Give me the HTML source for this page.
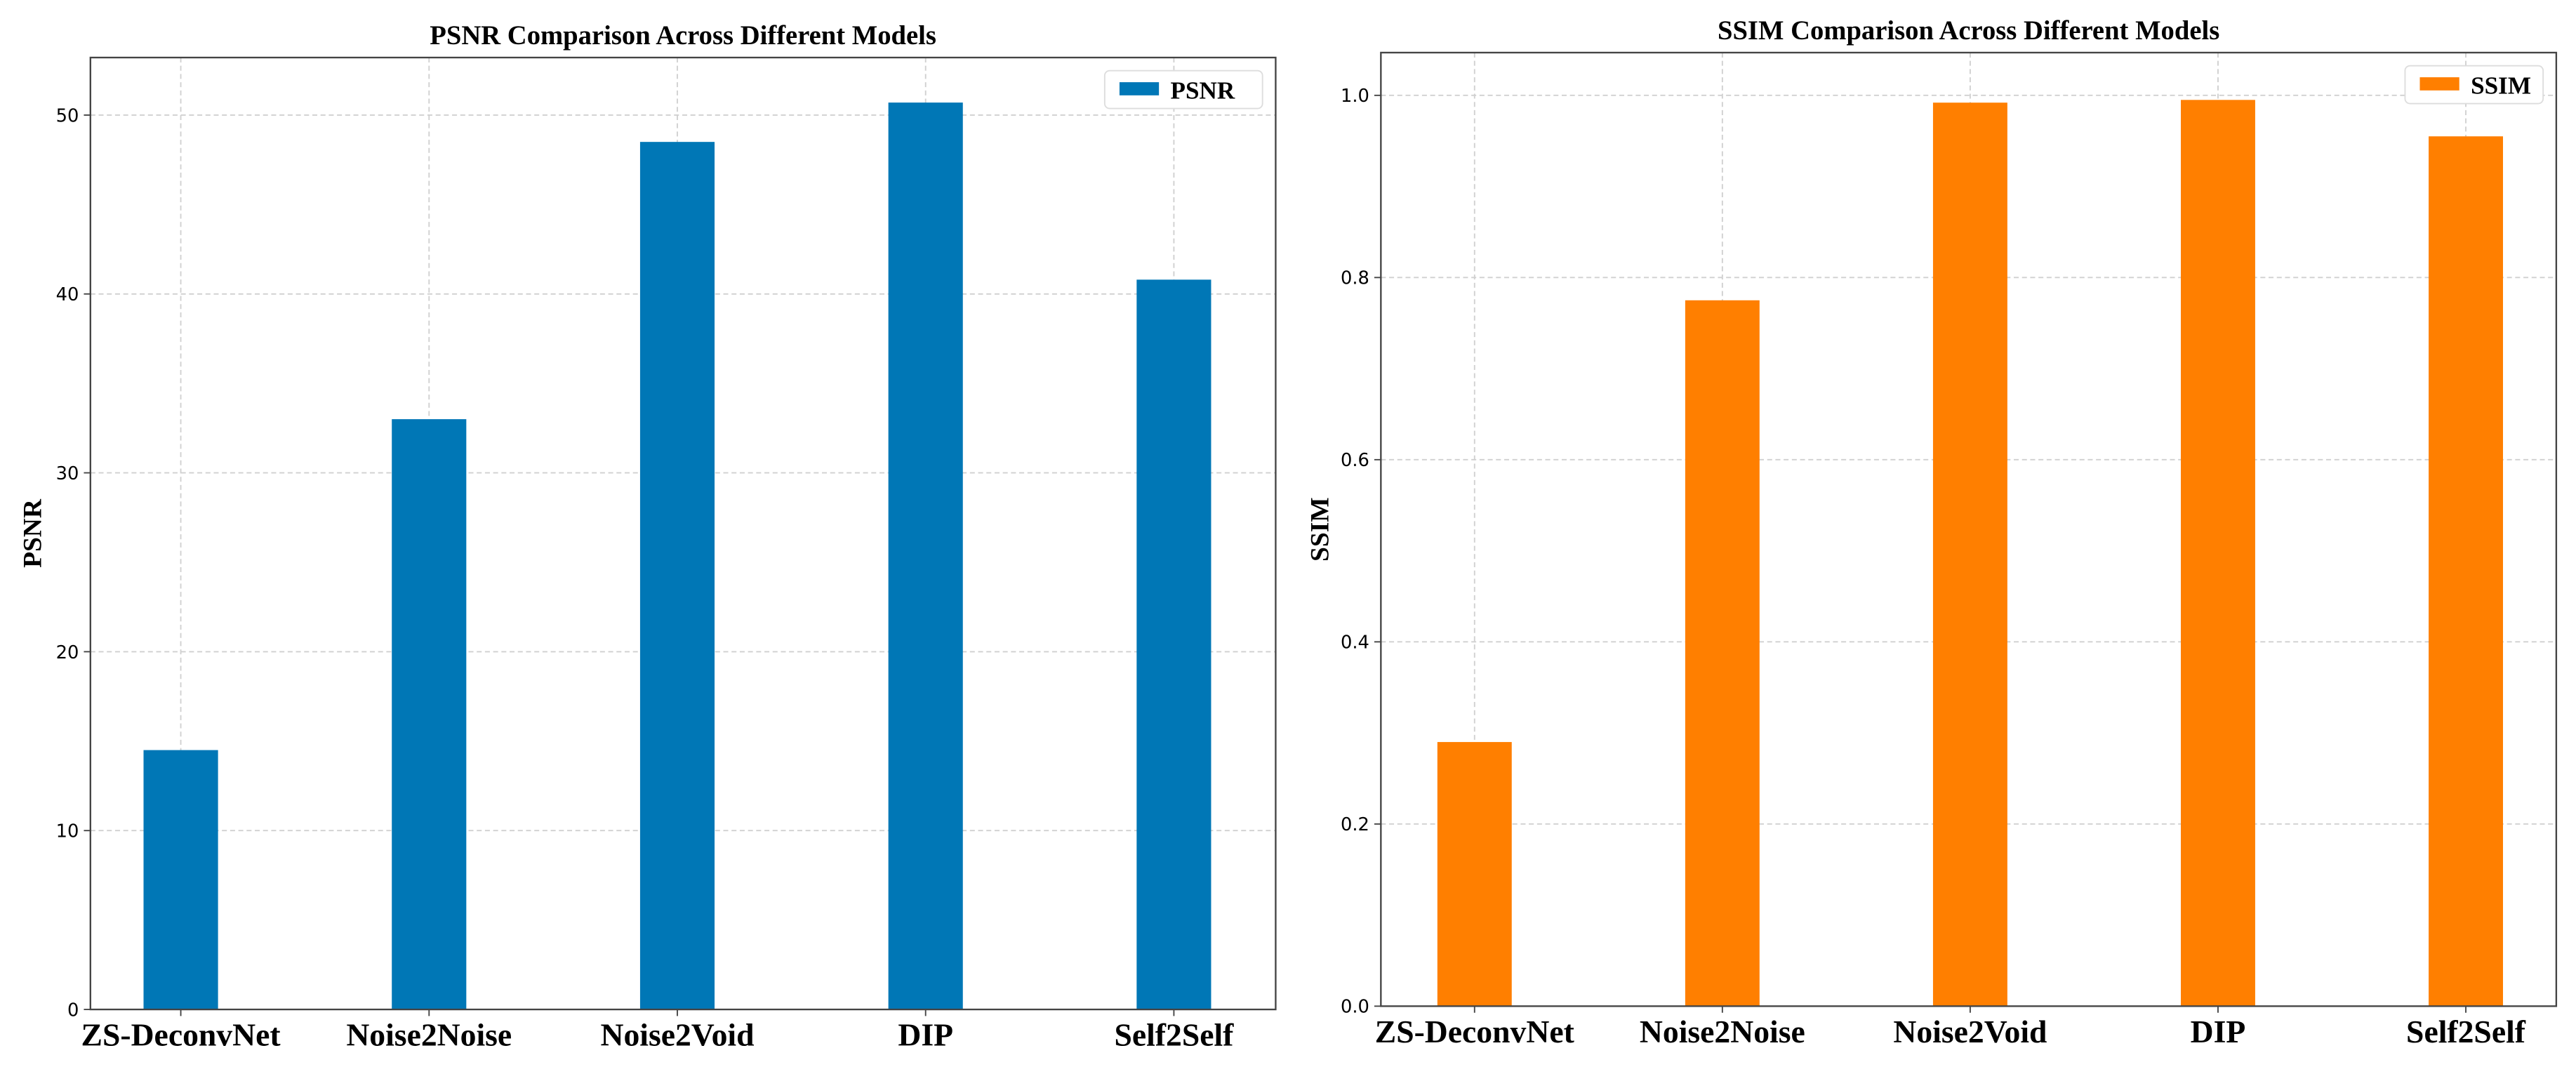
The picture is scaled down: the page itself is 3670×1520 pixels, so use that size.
<!DOCTYPE html>
<html><head><meta charset="utf-8"><style>
html,body{margin:0;padding:0;background:#fff;}
svg{display:block;}
.tick{font-family:"DejaVu Sans","Liberation Sans",sans-serif;font-size:11px;fill:#000;}
.xl{font-family:"Liberation Serif",serif;font-weight:bold;font-size:19.5px;fill:#000;}
.ttl{font-family:"Liberation Serif",serif;font-weight:bold;font-size:16.5px;fill:#000;}
.yt{font-family:"Liberation Serif",serif;font-weight:bold;font-size:16px;fill:#000;}
.lg{font-family:"Liberation Serif",serif;font-weight:bold;font-size:15px;fill:#000;}
</style></head><body>
<svg id="chart" width="3670" height="1520" viewBox="0 0 1567 649" preserveAspectRatio="none" xmlns="http://www.w3.org/2000/svg"></svg>
<script>
const categories = ["ZS-DeconvNet","Noise2Noise","Noise2Void","DIP","Self2Self"];
const psnrValues = [14.5, 33.0, 48.5, 50.7, 40.8];
const ssimValues = [0.29, 0.775, 0.992, 0.995, 0.955];
const psnrTicks = [0,10,20,30,40,50];
const ssimTicks = [0,0.2,0.4,0.6,0.8,1.0];
const ssimTickLabels = ["0.0","0.2","0.4","0.6","0.8","1.0"];

const NS="http://www.w3.org/2000/svg";
const svg=document.getElementById('chart');
function mk(tag,attrs,parent){const e=document.createElementNS(NS,tag);for(const k in attrs)e.setAttribute(k,attrs[k]);(parent||svg).appendChild(e);return e;}

function panel(cfg){
  const g=mk('g',{});
  
  
  const {L,R,T,B,ymax,ticks,tickLabels,values,color,label,title,xmin,xmax}=cfg;
  const y=v=>B-(v/ymax)*(B-T);
  const x=i=>L+(i-xmin)/(xmax-xmin)*(R-L);
  const unit=(R-L)/(xmax-xmin);
  ticks.forEach((t,i)=>{
    if(t===0)return;
    const ln=mk('line',{x1:L,x2:R,y1:y(t),y2:y(t),stroke:'#d0d0d0','stroke-width':0.8,'stroke-dasharray':'3,2'},g);
    
    
  });
  categories.forEach((c,i)=>{
    const ln=mk('line',{x1:x(i),x2:x(i),y1:T,y2:B,stroke:'#d0d0d0','stroke-width':0.8,'stroke-dasharray':'3,2'},g);
    
    
  });
  const bw=unit*0.3;
  values.forEach((v,i)=>{
    const r=mk('rect',{x:x(i)-bw/2,y:y(v),width:bw,height:B-y(v),fill:color},g);
    
    
  });
  const fr=mk('rect',{x:L,y:T,width:R-L,height:B-T,fill:'none',stroke:'#444','stroke-width':1},g);
  
  
  ticks.forEach((t,i)=>{
    mk('line',{x1:L-4,x2:L,y1:y(t),y2:y(t),stroke:'#444','stroke-width':0.8},g);
    const tx=mk('text',{x:L-7,y:y(t)+4,'text-anchor':'end',class:'tick'},g);
    tx.textContent=tickLabels[i];
    
    
  });
  categories.forEach((c,i)=>{
    mk('line',{x1:x(i),x2:x(i),y1:B,y2:B+4,stroke:'#444','stroke-width':0.8},g);
    const tx=mk('text',{x:x(i),y:B+22,'text-anchor':'middle',class:'xl'},g);
    tx.textContent=c;
    
    
  });
  const tt=mk('text',{x:(L+R)/2,y:T-8,'text-anchor':'middle',class:'ttl'},g);
  tt.textContent=title;
  
  
  const yl=mk('text',{x:0,y:0,'text-anchor':'middle',class:'yt',transform:`translate(${cfg.ylx},${(T+B)/2}) rotate(-90)`},g);
  yl.textContent=label;
  
  
  const lg=mk('g',{},g);
  
  
  mk('rect',{x:cfg.lgx,y:T+8,width:R-8-cfg.lgx,height:23,rx:3,fill:'#fff',stroke:'#ddd','stroke-width':0.8},lg);
  mk('rect',{x:cfg.lgx+9,y:T+15,width:24,height:8,fill:color},lg);
  const lt=mk('text',{x:cfg.lgx+40,y:T+25,class:'lg'},lg);
  lt.textContent=label;
}
panel({key:'psnr',L:55,R:776,T:35,B:614,xmin:-0.364,xmax:4.41,ymax:50*(614-35)/(614-70),ticks:psnrTicks,tickLabels:psnrTicks.map(String),values:psnrValues,color:'#0077b6',label:'PSNR',title:'PSNR Comparison Across Different Models',ylx:25,lgx:672});
panel({key:'ssim',L:840,R:1555,T:32,B:612,xmin:-0.378,xmax:4.365,ymax:1.0*(612-32)/(612-58),ticks:ssimTicks,tickLabels:ssimTickLabels,values:ssimValues,color:'#ff7f00',label:'SSIM',title:'SSIM Comparison Across Different Models',ylx:808,lgx:1463});
</script>
</body></html>
